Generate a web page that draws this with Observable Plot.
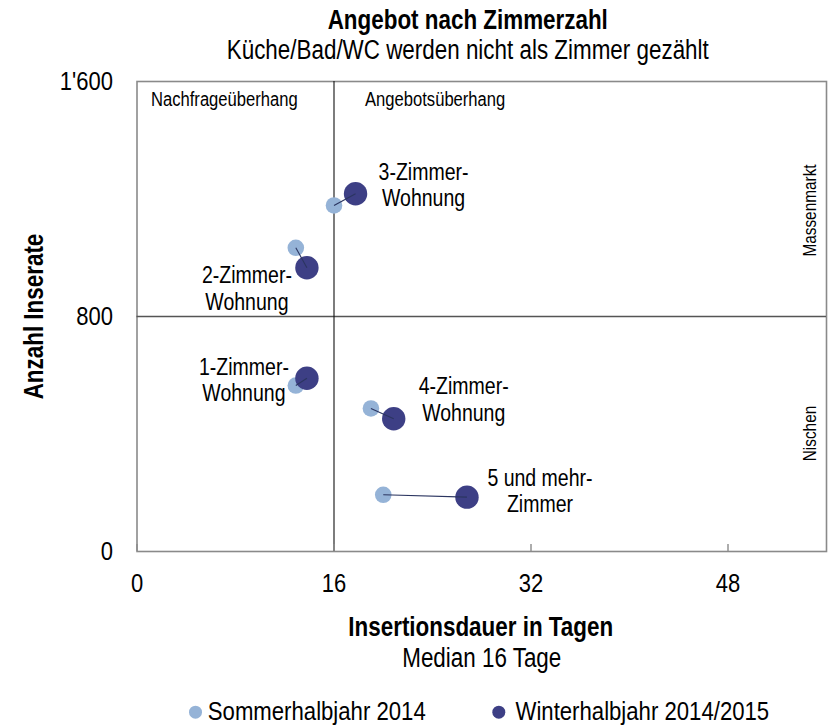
<!DOCTYPE html>
<html>
<head>
<meta charset="utf-8">
<script src="https://cdn.jsdelivr.net/npm/d3@7"></script>
<script src="https://cdn.jsdelivr.net/npm/@observablehq/plot@0.6"></script>
<style>
  html, body { margin: 0; padding: 0; background: #fff; }
  #chart svg { display: block; }
</style>
</head>
<body>
<div id="chart"></div>
<script>
// ---- data ----
const categories = ["1-Zimmer-\nWohnung", "2-Zimmer-\nWohnung", "3-Zimmer-\nWohnung", "4-Zimmer-\nWohnung", "5 und mehr-\nZimmer"];
const summerDays  = [12.9, 12.9, 16.0, 19.0, 20.0];
const summerCount = [565, 1034, 1178, 487, 193];
const winterDays  = [13.8, 13.8, 17.75, 20.85, 26.8];
const winterCount = [590, 966, 1218, 452, 185];
const seriesNames = ["Sommerhalbjahr 2014", "Winterhalbjahr 2014/2015"];
const medianDays = 16;
const medianCount = 800;
const xTicks = [0, 16, 32, 48];
const yTicks = [0, 800, 1600];
const titleText = "Angebot nach Zimmerzahl";
const subtitleText = "Küche/Bad/WC werden nicht als Zimmer gezählt";
const xLabel = "Insertionsdauer in Tagen";
const xSubLabel = "Median 16 Tage";
const yLabel = "Anzahl Inserate";
const quadrantTop = ["Nachfrageüberhang", "Angebotsüberhang"];
const quadrantRight = ["Massenmarkt", "Nischen"];

const rows = categories.map((c, i) => ({
  label: c, sx: summerDays[i], sy: summerCount[i], wx: winterDays[i], wy: winterCount[i]
}));

// ---- styles / layout ----
const FONT = "'Liberation Sans', Arial, sans-serif";
const SQUEEZE = 0.83;
const colSummer = "#95b3d7";
const colWinter = "#3d3f85";
const labelOffsets = [
  {dx: -63, dy: -22.5},
  {dx: -60, dy: -3.8},
  {dx: 68, dy: -33.1},
  {dx: 70, dy: -43.8},
  {dx: 73, dy: -30.5}
];
const fmt = d3.formatLocale({decimal: ".", thousands: "'", grouping: [3], currency: ["", ""]}).format(",");

const marks = [
  Plot.frame({stroke: "#8a8a8a", strokeWidth: 1.6}),
  Plot.ruleY([medianCount], {y: d => d, stroke: "#555", strokeWidth: 1.3}),
  Plot.ruleX([medianDays], {x: d => d, stroke: "#111", strokeWidth: 1.1}),
  Plot.tickX(xTicks, {x: d => d, stroke: "#8a8a8a", strokeWidth: 1.4, insetTop: 463}),
  Plot.axisX({ticks: xTicks, tickSize: 0, tickPadding: 21.5, fontSize: 26.5, label: null}),
  Plot.axisY({ticks: yTicks, tickSize: 0, tickPadding: 24, fontSize: 26.5, tickFormat: fmt, label: null}),
  Plot.dot(rows, {x: "sx", y: "sy", r: 8.3, fill: colSummer}),
  Plot.dot(rows, {x: "wx", y: "wy", r: 11.7, fill: colWinter}),
  Plot.link(rows, {x1: "sx", y1: "sy", x2: "wx", y2: "wy", stroke: "#2b3560", strokeWidth: 1.1}),
  ...rows.map((r, i) => Plot.text([r], {
    x: "wx", y: "wy", text: "label", fontSize: 23.5, lineHeight: 1.14,
    textAnchor: "middle", lineAnchor: "top", fill: "black",
    dx: labelOffsets[i].dx, dy: labelOffsets[i].dy
  })),
  // quadrant labels
  Plot.text([quadrantTop[0]], {text: d => d, frameAnchor: "top-left", textAnchor: "start", lineAnchor: "middle", dx: 14, dy: 17.6, fontSize: 20, fill: "black"}),
  Plot.text([medianDays], {x: d => d, text: () => quadrantTop[1], frameAnchor: "top", textAnchor: "start", lineAnchor: "middle", dx: 31, dy: 17.6, fontSize: 20, fill: "black"}),
  Plot.text([quadrantRight[0]], {text: d => d, frameAnchor: "top-right", rotate: -90, textAnchor: "middle", lineAnchor: "middle", dx: -16, dy: 129, fontSize: 18.5, fill: "black"}),
  Plot.text([quadrantRight[1]], {text: d => d, frameAnchor: "top-right", rotate: -90, textAnchor: "middle", lineAnchor: "middle", dx: -16, dy: 352, fontSize: 18.5, fill: "black"}),
  // titles
  Plot.text([titleText], {text: d => d, frameAnchor: "top", textAnchor: "middle", lineAnchor: "middle", dx: -14, dy: -61.1, fontSize: 27, fontWeight: "bold", fill: "black"}),
  Plot.text([subtitleText], {text: d => d, frameAnchor: "top", textAnchor: "middle", lineAnchor: "middle", dx: -14, dy: -31.1, fontSize: 27, fill: "black"}),
  Plot.text([xLabel], {text: d => d, frameAnchor: "bottom", textAnchor: "middle", lineAnchor: "middle", dx: -1, dy: 75.4, fontSize: 27, fontWeight: "bold", fill: "black"}),
  Plot.text([xSubLabel], {text: d => d, frameAnchor: "bottom", textAnchor: "middle", lineAnchor: "middle", dx: 0, dy: 106.7, fontSize: 27, fill: "black"}),
  Plot.text([yLabel], {text: d => d, frameAnchor: "left", rotate: -90, textAnchor: "middle", lineAnchor: "middle", dx: -103, dy: 0, fontSize: 27, fontWeight: "bold", fill: "black"}),
  // legend
  Plot.dot([seriesNames[0]], {frameAnchor: "bottom-left", dx: 58.5, dy: 160.7, r: 6.5, fill: colSummer}),
  Plot.text([seriesNames[0]], {text: d => d, frameAnchor: "bottom-left", textAnchor: "start", lineAnchor: "middle", dx: 70.8, dy: 159.8, fontSize: 26.7, fill: "black"}),
  Plot.dot([seriesNames[1]], {frameAnchor: "bottom-left", dx: 361.8, dy: 160.7, r: 6.5, fill: colWinter}),
  Plot.text([seriesNames[1]], {text: d => d, frameAnchor: "bottom-left", textAnchor: "start", lineAnchor: "middle", dx: 378.5, dy: 159.8, fontSize: 26.7, fill: "black"})
];

const svg = Plot.plot({
  width: 831,
  height: 728,
  marginLeft: 136.5,
  marginRight: 5,
  marginTop: 81,
  marginBottom: 177,
  x: {domain: [0, 56], axis: null},
  y: {domain: [0, 1600], axis: null},
  style: {fontFamily: FONT, color: "black", background: "white", overflow: "visible"},
  marks
});
document.getElementById("chart").appendChild(svg);

// condense glyphs horizontally (narrow typeface look)
svg.querySelectorAll("text").forEach(t => {
  const spans = t.querySelectorAll("tspan");
  const targets = spans.length ? Array.from(spans) : [t];
  targets.forEach(el => {
    const len = el.getComputedTextLength();
    if (len > 0) {
      el.setAttribute("textLength", (len * SQUEEZE).toFixed(2));
      el.setAttribute("lengthAdjust", "spacingAndGlyphs");
    }
  });
});
</script>
</body>
</html>
